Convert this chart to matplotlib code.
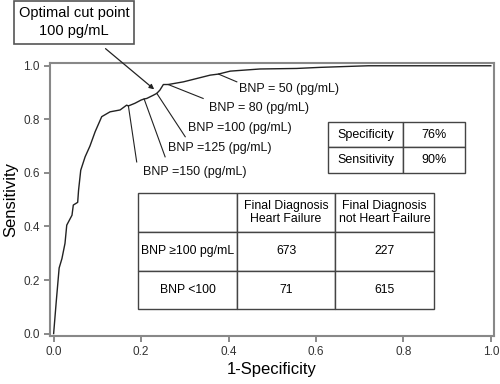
import matplotlib
matplotlib.use("Agg")
import matplotlib.pyplot as plt

plt.rcParams['font.family'] = ['Liberation Sans', 'DejaVu Sans']

# ROC curve
fpr = [0.0, 0.006, 0.0126, 0.019, 0.026, 0.030, 0.042, 0.045, 0.055, 0.057,
       0.062, 0.072, 0.083, 0.095, 0.11, 0.129, 0.152, 0.167, 0.171, 0.186,
       0.2, 0.207, 0.213, 0.228, 0.236, 0.243, 0.251, 0.262, 0.297, 0.358,
       0.377, 0.404, 0.472, 0.556, 0.609, 0.70, 0.72, 1.0]
tpr = [0.0, 0.12, 0.245, 0.28, 0.337, 0.405, 0.442, 0.48, 0.49, 0.535,
       0.61, 0.66, 0.70, 0.754, 0.81, 0.828, 0.835, 0.853, 0.85, 0.86,
       0.872, 0.876, 0.878, 0.89, 0.897, 0.909, 0.93, 0.93, 0.94, 0.965,
       0.969, 0.98, 0.988, 0.99, 0.994, 0.999, 1.0, 1.0]

# BNP cut points
cut_labels = ['BNP =150 (pg/mL)', 'BNP =125 (pg/mL)', 'BNP =100 (pg/mL)',
              'BNP = 80 (pg/mL)', 'BNP = 50 (pg/mL)']
cut_fpr = [0.171, 0.207, 0.236, 0.262, 0.377]
cut_tpr = [0.85, 0.876, 0.897, 0.93, 0.969]
# where the leader lines end, and where the labels sit
lead_end = [(0.190, 0.641), (0.255, 0.660), (0.301, 0.735), (0.342, 0.878), (0.419, 0.940)]
label_pos = [(0.205, 0.604), (0.262, 0.692), (0.308, 0.766), (0.356, 0.843), (0.425, 0.912)]

spec_rows = [['Specificity', '76%'], ['Sensitivity', '90%']]

diag_header = ['', 'Final Diagnosis\nHeart Failure', 'Final Diagnosis\nnot Heart Failure']
diag_rows = [['BNP \u2265100 pg/mL', '673', '227'],
             ['BNP <100', '71', '615']]

fig = plt.figure(figsize=(5, 3.84), dpi=100)
ax = fig.add_axes([0.0994, 0.125, 0.8892, 0.710])

ax.plot(fpr, tpr, color='#222222', lw=1.0)

for lab, x, y, e, p in zip(cut_labels, cut_fpr, cut_tpr, lead_end, label_pos):
    ax.plot([x, e[0]], [y, e[1]], color='#222222', lw=0.8)
    ax.text(p[0], p[1], lab, fontsize=9, va='center', ha='left', color='#111111')

ax.annotate('Optimal cut point\n100 pg/mL', xy=(0.230, 0.912),
            xytext=(0.148, 0.942), textcoords='figure fraction',
            ha='center', va='center', fontsize=10.5, linespacing=1.4,
            bbox=dict(boxstyle='square,pad=0.35', fc='white', ec='#555555', lw=1.2),
            arrowprops=dict(arrowstyle='-|>', color='#222222', lw=0.9,
                            mutation_scale=7, shrinkA=5, shrinkB=0),
            annotation_clip=False)

t1 = ax.table(cellText=spec_rows, cellLoc='center', colWidths=[75, 62],
              bbox=[0.626, 0.598, 0.309, 0.187])
t1.auto_set_font_size(False)
for cell in t1.get_celld().values():
    cell.set_edgecolor('#444444')
    cell.set_linewidth(1.0)
    cell.get_text().set_fontsize(9)

t2 = ax.table(cellText=[diag_header] + diag_rows, cellLoc='center',
              bbox=[0.199, 0.098, 0.665, 0.425])
t2.auto_set_font_size(False)
for cell in t2.get_celld().values():
    cell.set_edgecolor('#444444')
    cell.set_linewidth(1.0)
    cell.get_text().set_fontsize(8.8)
    cell.get_text().set_linespacing(1.1)

ax.set_xlim(-0.009, 1.008)
ax.set_ylim(-0.009, 1.009)
ax.set_xticks([0.0, 0.2, 0.4, 0.6, 0.8, 1.0])
ax.set_yticks([0.0, 0.2, 0.4, 0.6, 0.8, 1.0])
ax.set_xticklabels(['0.0', '0.2', '0.4', '0.6', '0.8', '1.0'])
ax.set_yticklabels(['0.0', '0.2', '0.4', '0.6', '0.8', '1.0'])
ax.tick_params(direction='out', length=4, width=1.2, color='#777777',
               labelsize=8.5, labelcolor='#333333', pad=3)
for s in ax.spines.values():
    s.set_color('#888888')
    s.set_linewidth(1.5)

ax.set_xlabel('1-Specificity', fontsize=12, labelpad=3)
ax.set_ylabel('Sensitivity', fontsize=12, labelpad=4)

fig.savefig('out.png', dpi=100)
